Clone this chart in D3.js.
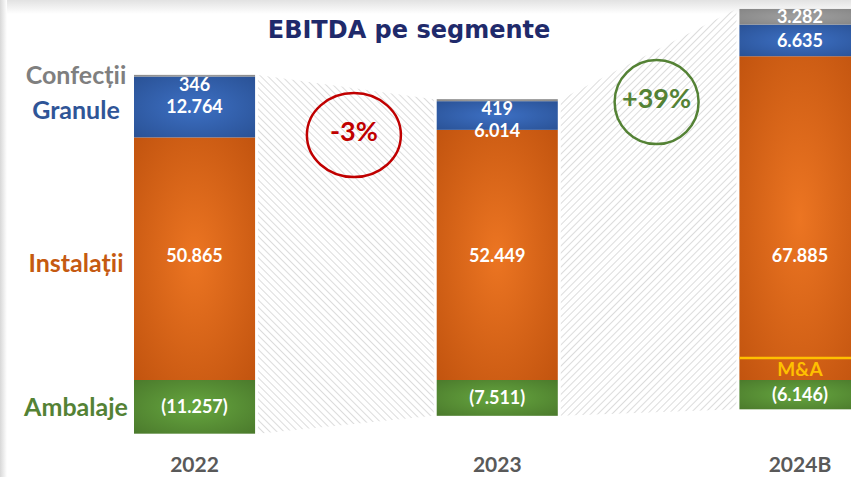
<!DOCTYPE html>
<html>
<head>
<meta charset="utf-8">
<script src="https://cdn.jsdelivr.net/npm/d3@7"></script>
<style>
  body { margin: 0; background: #fff; }
  #chart svg { display: block; }
</style>
</head>
<body>
<div id="chart"></div>
<script>
// Data (values in thousands, "." as thousands separator)
const years = ["2022", "2023", "2024B"];
const confectii = [346, 419, 3282];
const granule = [12764, 6014, 6635];
const instalatii = [50865, 52449, 67885];
const ambalaje = [-11257, -7511, -6146];
const mna = [0, 0, 4600]; // M&A part inside Instalații
const changes = ["-3%", "+39%"];
const segmentNames = ["Confecții", "Granule", "Instalații", "Ambalaje"];

const width = 851, height = 477;

const svg = d3.select("#chart").append("svg")
    .attr("width", width)
    .attr("height", height);

const defs = svg.append("defs");

// slide shadow at top and left
const topShade = defs.append("linearGradient").attr("id", "topShade")
    .attr("x1", 0).attr("y1", 0).attr("x2", 0).attr("y2", 1);
topShade.append("stop").attr("offset", "0%").attr("stop-color", "#e2e2e2");
topShade.append("stop").attr("offset", "100%").attr("stop-color", "#fff");
const leftShade = defs.append("linearGradient").attr("id", "leftShade")
    .attr("x1", 0).attr("y1", 0).attr("x2", 1).attr("y2", 0);
leftShade.append("stop").attr("offset", "0%").attr("stop-color", "#d8d8d8");
leftShade.append("stop").attr("offset", "100%").attr("stop-color", "#fff");
svg.append("rect").attr("width", width).attr("height", 14).attr("fill", "url(#topShade)");
svg.append("rect").attr("width", 7).attr("height", height).attr("fill", "url(#leftShade)");

// bar fills: lighter in the middle, darker at the edges
const fills = {
    conf: ["#a0a0a0", "#858585"],
    gran: ["#3d70c4", "#2a5296"],
    inst: ["#ec7522", "#c2540f"],
    amb: ["#66a63f", "#4b7a2c"]
};
Object.entries(fills).forEach(([key, [c0, c1]]) => {
    const g = defs.append("radialGradient").attr("id", "g-" + key)
        .attr("cx", "50%").attr("cy", "50%").attr("r", "70%");
    g.append("stop").attr("offset", "0%").attr("stop-color", c0);
    g.append("stop").attr("offset", "100%").attr("stop-color", c1);
});

// hatch patterns for the connectors
[["hatchL", -45], ["hatchR", 45]].forEach(([id, angle]) => {
    const p = defs.append("pattern").attr("id", id)
        .attr("patternUnits", "userSpaceOnUse")
        .attr("width", 5).attr("height", 5)
        .attr("patternTransform", `rotate(${angle})`);
    p.append("line").attr("x1", 0).attr("y1", 0).attr("x2", 0).attr("y2", 5)
        .attr("stroke", "#d6d6d6").attr("stroke-width", 1.7);
});

// Scales
const x = d3.scaleBand()
    .domain(years)
    .range([134, 860.5])
    .paddingInner(0.6)
    .paddingOuter(0);

const y = d3.scaleLinear()
    .domain([0, 78000])
    .range([380, 8]);

const loc = d3.formatLocale({ decimal: ",", thousands: ".", grouping: [3], currency: ["", ""] });
const fmt = loc.format(",d");
const fmtVal = v => v < 0 ? `(${fmt(-v)})` : fmt(v);

// Stack per year
const stacks = years.map((yr, i) => {
    const inst = instalatii[i], gran = granule[i], conf = confectii[i];
    return {
        year: yr,
        x: x(yr),
        segs: [
            { key: "amb", y0: ambalaje[i], y1: 0, v: ambalaje[i] },
            { key: "inst", y0: 0, y1: inst, v: inst },
            { key: "gran", y0: inst, y1: inst + gran, v: gran },
            { key: "conf", y0: inst + gran, y1: inst + gran + conf, v: conf }
        ],
        top: inst + gran + conf,
        bottom: ambalaje[i],
        mna: mna[i]
    };
});

// Connectors between bars
const gap = 3;
stacks.slice(0, -1).forEach((a, i) => {
    const b = stacks[i + 1];
    const x0 = a.x + x.bandwidth() + gap, x1 = b.x - gap;
    const pts = [[x0, y(a.top)], [x1, y(b.top)], [x1, y(b.bottom)], [x0, y(a.bottom)]];
    svg.append("polygon")
        .attr("points", pts.map(p => p.join(",")).join(" "))
        .attr("fill", i === 0 ? "url(#hatchL)" : "url(#hatchR)");
});

// Bars
const bars = svg.selectAll(".bar")
    .data(stacks)
    .enter()
    .append("g")
    .attr("class", "bar");

bars.selectAll("rect")
    .data(d => d.segs.map(s => ({ ...s, x: d.x })))
    .enter()
    .append("rect")
    .attr("x", d => d.x)
    .attr("y", d => y(Math.max(d.y0, d.y1)))
    .attr("width", x.bandwidth())
    .attr("height", d => Math.abs(y(d.y0) - y(d.y1)))
    .attr("fill", d => `url(#g-${d.key})`);

// M&A marker
const valueFont = "Lato, 'Open Sans', sans-serif";
stacks.filter(d => d.mna > 0).forEach(d => {
    svg.append("line")
        .attr("x1", d.x).attr("x2", d.x + x.bandwidth())
        .attr("y1", y(d.mna)).attr("y2", y(d.mna))
        .attr("stroke", "#ffc000").attr("stroke-width", 2.5);
    svg.append("text")
        .attr("x", d.x + x.bandwidth() / 2)
        .attr("y", y(d.mna / 2))
        .attr("dy", "0.36em")
        .attr("text-anchor", "middle")
        .attr("font-family", valueFont)
        .attr("font-weight", 700)
        .attr("font-size", 19)
        .attr("fill", "#ffc000")
        .text("M&A");
});

// Value labels
const addValue = (cx, cy, txt) => svg.append("text")
    .attr("x", cx).attr("y", cy)
    .attr("dy", "0.35em")
    .attr("text-anchor", "middle")
    .attr("font-family", valueFont)
    .attr("font-weight", 700)
    .attr("font-size", 18)
    .attr("fill", "#fff")
    .text(txt);

stacks.forEach(d => {
    const cx = d.x + x.bandwidth() / 2;
    const [amb, inst, gran, conf] = d.segs;
    addValue(cx, (y(amb.y0) + y(amb.y1)) / 2, fmtVal(amb.v));
    addValue(cx, y(26000), fmtVal(inst.v));
    const confPx = y(conf.y0) - y(conf.y1);
    if (confPx < 8) {
        // tiny Confecții slice: stack both labels under the top edge
        addValue(cx, y(d.top) + 10, fmtVal(conf.v));
        addValue(cx, y(d.top) + 32, fmtVal(gran.v));
    } else {
        addValue(cx, (y(conf.y0) + y(conf.y1)) / 2, fmtVal(conf.v));
        addValue(cx, (y(gran.y0) + y(gran.y1)) / 2, fmtVal(gran.v));
    }
});

// Segment names on the left, next to the first bar
const first = stacks[0];
const nameColors = ["#7f7f7f", "#2f5597", "#c55a11", "#548235"];
const nameY = [
    y(first.top),
    (y(first.segs[2].y0) + y(first.segs[2].y1)) / 2 + 3,
    (y(first.segs[1].y0) + y(first.segs[1].y1)) / 2 + 4,
    (y(first.segs[0].y0) + y(first.segs[0].y1)) / 2
];
svg.selectAll(".segname")
    .data(segmentNames)
    .enter()
    .append("text")
    .attr("class", "segname")
    .attr("x", 76)
    .attr("y", (d, i) => nameY[i])
    .attr("dy", "0.36em")
    .attr("text-anchor", "middle")
    .attr("font-family", valueFont)
    .attr("font-weight", 700)
    .attr("font-size", 25)
    .attr("fill", (d, i) => nameColors[i])
    .text(d => d);

// Year axis
svg.append("g")
    .attr("transform", "translate(0, 472)")
    .call(d3.axisBottom(x).tickSize(0).tickPadding(0))
    .call(g => g.select(".domain").remove())
    .selectAll("text")
    .attr("dy", 0)
    .attr("y", 0)
    .attr("font-family", valueFont)
    .attr("font-weight", 700)
    .attr("font-size", 21)
    .attr("fill", "#595959");

// Change bubbles between bars
const changeColors = ["#c00000", "#548235"];
changes.forEach((c, i) => {
    const a = stacks[i], b = stacks[i + 1];
    const cx = (a.x + x.bandwidth() + b.x) / 2 + 8;
    const cy = (y(a.top) + y(b.top)) / 2 + 48;
    svg.append("ellipse")
        .attr("cx", cx).attr("cy", cy)
        .attr("rx", i === 0 ? 47 : 42).attr("ry", 42)
        .attr("fill", "none")
        .attr("stroke", changeColors[i])
        .attr("stroke-width", 2.5);
    svg.append("text")
        .attr("x", cx).attr("y", cy - 4)
        .attr("dy", "0.36em")
        .attr("text-anchor", "middle")
        .attr("font-family", valueFont)
        .attr("font-weight", 700)
        .attr("font-size", 27)
        .attr("fill", changeColors[i])
        .text(c);
});

// Title
svg.append("text")
    .attr("x", 409).attr("y", 38)
    .attr("text-anchor", "middle")
    .attr("font-family", "'DejaVu Sans', Verdana, sans-serif")
    .attr("font-weight", 700)
    .attr("font-size", 24)
    .attr("fill", "#1f2a6b")
    .text("EBITDA pe segmente");
</script>
</body>
</html>
